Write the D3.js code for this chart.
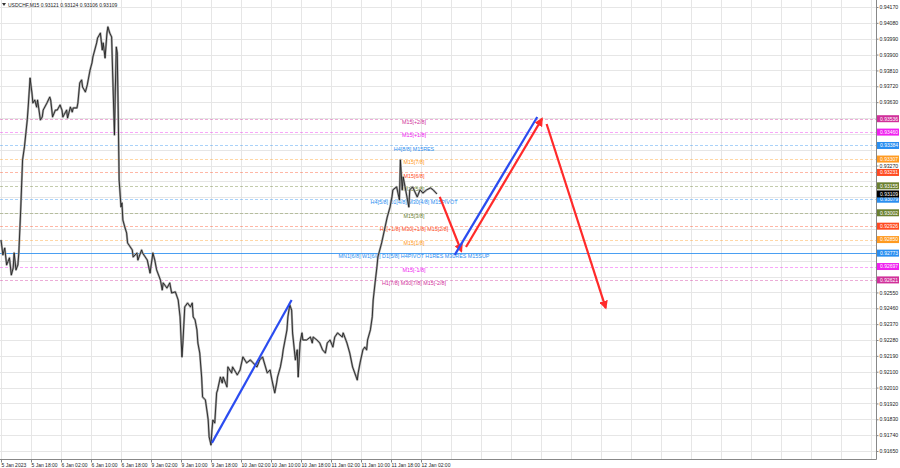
<!DOCTYPE html>
<html><head><meta charset="utf-8">
<script src="https://cdn.jsdelivr.net/npm/d3@7"></script>
<style>
body{margin:0;background:#fff;}
svg{display:block;font-family:"Liberation Sans",Arial,sans-serif;}
</style></head><body>
<svg id="c" width="900" height="468"></svg>
<script>
// ---------- data ----------
const symbol = "USDCHF,M15";
const headerOHLC = ["0.93121","0.93124","0.93106","0.93109"];
const timeLabels = ["5 Jan 2023","5 Jan 18:00","6 Jan 02:00","6 Jan 10:00","6 Jan 18:00","9 Jan 02:00","9 Jan 10:00","9 Jan 18:00","10 Jan 02:00","10 Jan 10:00","10 Jan 18:00","11 Jan 02:00","11 Jan 10:00","11 Jan 18:00","12 Jan 02:00"];
const priceTicks = ["0.91650","0.91740","0.91830","0.91920","0.92010","0.92100","0.92190","0.92280","0.92370","0.92460","0.92550","0.92640","0.92730","0.92820","0.92910","0.93000","0.93090","0.93180","0.93270","0.93360","0.93450","0.93540","0.93630","0.93720","0.93810","0.93900","0.93990","0.94080","0.94170"];

// bar index (15-min bars from 5 Jan 10:00) and price
const barIdx = [0,2,4,6,9,11,13,14,16,18,19,21,23,25,28,29,31,33,34,36,38,39,42,44,45,49,52,53,55,58,60,63,65,66,70,71,74,76,77,81,82,84,86,87,90,92,93,95,97,98,100,102,103,106,108,109,111,113,114,116,118,119,121,122,123,124,125,126,128,129,130,132,134,135,140,141,145,146,150,151,156,159,162,164,166,170,172,173,177,180,182,186,189,191,193,194,196,199,202,204,205,207,209,210,212,214,215,218,220,221,222,224,225,226,228,230,231,234,236,237,241,242,246,247,252,255,258,262,266,269,273,276,279,284,287,289,292,294,295,298,300,301,303,305,306,308,310,311,314,316,317,319,321,322,326,330,332,333,337,340,343,346,348,351,354,356,359,364,365,369,372,375,380,381,383,386,388,390,391,394,396,397,399,401,402,404,406,409,412,415,417,418,422,425,426,427,428,429,431,433,435,436,439,444,447,450,454,458,461,465];
const prices = [0.92848,0.92763,0.92802,0.92706,0.92746,0.92649,0.92689,0.92774,0.92678,0.92706,0.92774,0.93018,0.93302,0.93376,0.93529,0.93602,0.93767,0.93682,0.93625,0.93642,0.93602,0.93642,0.93529,0.93546,0.93585,0.93625,0.93659,0.93642,0.93546,0.93585,0.93585,0.93614,0.93585,0.93546,0.93585,0.93540,0.93602,0.93574,0.93597,0.93597,0.93625,0.93739,0.93756,0.93716,0.93688,0.93727,0.93756,0.93812,0.93852,0.93886,0.93926,0.93966,0.93994,0.94022,0.93926,0.93966,0.93881,0.94022,0.94057,0.94022,0.94000,0.93812,0.93444,0.93716,0.93943,0.93909,0.93585,0.93188,0.93035,0.93058,0.92961,0.92922,0.92887,0.92831,0.92791,0.92751,0.92774,0.92734,0.92791,0.92774,0.92734,0.92660,0.92774,0.92734,0.92678,0.92621,0.92564,0.92604,0.92575,0.92604,0.92547,0.92553,0.92507,0.92411,0.92184,0.92263,0.92468,0.92490,0.92468,0.92490,0.92411,0.92394,0.92337,0.92263,0.92206,0.92070,0.91957,0.91940,0.91866,0.91826,0.91730,0.91684,0.91770,0.91826,0.91809,0.91980,0.91996,0.92070,0.92036,0.92070,0.92014,0.92127,0.92093,0.92127,0.92082,0.92110,0.92184,0.92150,0.92167,0.92150,0.92127,0.92167,0.92184,0.92093,0.92110,0.92053,0.91980,0.92036,0.92070,0.92127,0.92184,0.92224,0.92280,0.92337,0.92411,0.92479,0.92450,0.92320,0.92167,0.92224,0.92070,0.92263,0.92320,0.92280,0.92280,0.92297,0.92263,0.92297,0.92280,0.92263,0.92224,0.92206,0.92263,0.92280,0.92240,0.92297,0.92320,0.92297,0.92320,0.92263,0.92206,0.92127,0.92053,0.92093,0.92150,0.92224,0.92240,0.92224,0.92280,0.92337,0.92411,0.92507,0.92604,0.92695,0.92751,0.92791,0.92831,0.92904,0.92978,0.93035,0.93092,0.93132,0.93149,0.93075,0.93302,0.93217,0.93132,0.93205,0.93149,0.93092,0.93035,0.93132,0.93149,0.93092,0.93132,0.93114,0.93132,0.93143,0.93132,0.93109];

// Murrey math levels
const levelPrices = [0.93536,0.93460,0.93384,0.93307,0.93231,0.93155,0.93079,0.93002,0.92926,0.92850,0.92773,0.92697,0.92621];
const levelNames = ["M15[+2/8]","M15[+1/8]","H4[8/8] M15RES","M15[7/8]","M15[6/8]","M15[5/8]","H4[5/8] D1[4/8] M30[4/8] M15PIVOT","M15[3/8]","H1[+1/8] M30[+1/8] M15[2/8]","M15[1/8]","MN1[6/8] W1[6/8] D1[5/8] H4PIVOT H1RES M30RES M15SUP","M15[-1/8]","H1[7/8] M30[7/8] M15[-2/8]"];
const levelColors = ["#d0309a","#f020f0","#2a8ef0","#ff9a20","#ff4a20","#6b8030","#2a8ef0","#6b8030","#ff4a20","#ff9a20","#2a8ef0","#f020f0","#d0309a"];
const levelSolid = [false,false,false,false,false,false,false,false,false,false,true,false,false];
const currentPrice = 0.93109;

// forecast / trend arrows (bar index, price)
const arrowBar0 = [225,468,484,496,582];
const arrowP0   = [0.91696,0.93092,0.92763,0.92808,0.93506];
const arrowBar1 = [310,491,572,577,645];
const arrowP1   = [0.92507,0.92785,0.93546,0.93535,0.92462];
const arrowColors = ["#2b4cf0","#ff2a2a","#2b4cf0","#ff2a2a","#ff2a2a"];
const arrowHeads  = [false,true,false,true,true];

// ---------- layout ----------
const W = 900, H = 468;
const plotR = 876, plotB = 459;
const svg = d3.select("#c");

const x = d3.scaleLinear().domain([0, 32]).range([1, 31]);
const y = d3.scaleLinear().domain([0.91650, 0.94170]).range([451, 7]);

svg.append("rect").attr("width",W).attr("height",H).attr("fill","#fff");
const defs = svg.append("defs");
defs.append("clipPath").attr("id","clip").append("rect").attr("x",0).attr("y",0).attr("width",plotR).attr("height",plotB);
arrowColors.forEach((c,i)=>{
  defs.append("marker").attr("id","ah"+i).attr("viewBox","0 0 10 10").attr("refX",8).attr("refY",5)
    .attr("markerWidth",4).attr("markerHeight",4).attr("orient","auto")
    .append("path").attr("d","M0,0 L10,5 L0,10 z").attr("fill",c);
});

const plot = svg.append("g").attr("clip-path","url(#clip)");

// grid
const maxBar = x.invert(plotR);
const vGrid = d3.range(0, maxBar, 32);
plot.append("g").selectAll("line").data(vGrid).join("line")
  .attr("x1",d=>Math.round(x(d))+0.5).attr("x2",d=>Math.round(x(d))+0.5)
  .attr("y1",0).attr("y2",plotB).attr("stroke","#e6e6e6").attr("stroke-width",1);
plot.append("g").selectAll("line").data(priceTicks).join("line")
  .attr("x1",0).attr("x2",plotR)
  .attr("y1",d=>Math.round(y(+d))+0.5).attr("y2",d=>Math.round(y(+d))+0.5)
  .attr("stroke","#e6e6e6").attr("stroke-width",1);

// levels
const levels = levelPrices.map((p,i)=>({p, name:levelNames[i], c:levelColors[i], solid:levelSolid[i]}));
plot.append("g").selectAll("line").data(levels).join("line")
  .attr("x1",0).attr("x2",plotR)
  .attr("y1",d=>Math.round(y(d.p))+0.5).attr("y2",d=>Math.round(y(d.p))+0.5)
  .attr("stroke",d=>d.c).attr("stroke-opacity",d=>d.solid?0.85:0.4)
  .attr("stroke-dasharray",d=>d.solid?null:"3,2").attr("stroke-width",1);
plot.append("g").selectAll("text").data(levels).join("text")
  .attr("x",414).attr("y",d=>y(d.p)+5.2).attr("text-anchor","middle")
  .attr("font-size","5.4px").attr("fill",d=>d.c).text(d=>d.name);

// price series (candle-like: gray range band + dark close path)
const series = barIdx.map((b,i)=>({b, p:prices[i]}));
const line = d3.line().x(d=>x(d.b)).y(d=>y(d.p));
plot.append("path").datum(series).attr("d",line).attr("fill","none")
  .attr("stroke","#a8a8a8").attr("stroke-width",2.2).attr("stroke-linejoin","round");
plot.append("path").datum(series).attr("d",line).attr("fill","none")
  .attr("stroke","#222").attr("stroke-width",0.9).attr("stroke-linejoin","round");

// arrows
arrowColors.forEach((c,i)=>{
  plot.append("line")
    .attr("x1",x(arrowBar0[i])).attr("y1",y(arrowP0[i]))
    .attr("x2",x(arrowBar1[i])).attr("y2",y(arrowP1[i]))
    .attr("stroke",c).attr("stroke-width",2.2)
    .attr("marker-end",arrowHeads[i]?"url(#ah"+i+")":null);
});

// frame
svg.append("line").attr("x1",plotR+0.5).attr("x2",plotR+0.5).attr("y1",0).attr("y2",plotB+0.5).attr("stroke","#888");
svg.append("line").attr("x1",0).attr("x2",plotR+0.5).attr("y1",plotB+0.5).attr("y2",plotB+0.5).attr("stroke","#888");

// colored tags (levels + current price)
const tags = levels.map(d=>({p:d.p, c:d.c})).concat([{p:currentPrice, c:"#000"}]);

// price axis (tick labels hidden where a coloured tag covers them)
const visibleTicks = priceTicks.filter(t=>tags.every(g=>Math.abs(y(+t)-y(g.p))>=6.5));
const yAxis = d3.axisRight(y).tickValues(visibleTicks.map(Number)).tickFormat((d,i)=>visibleTicks[i]).tickSize(2).tickPadding(1);
const ya = svg.append("g").attr("transform",`translate(${plotR+0.5},0)`).call(yAxis);
ya.select(".domain").remove();
ya.selectAll("line").attr("stroke","#888");
ya.selectAll("text").attr("font-size","5.2px").attr("fill","#222").attr("font-family","Liberation Sans, Arial, sans-serif");

// time axis
const tAxis = d3.axisBottom(x).tickValues(timeLabels.map((t,i)=>i*32)).tickFormat((d,i)=>timeLabels[i]).tickSize(3).tickPadding(1);
const xa = svg.append("g").attr("transform",`translate(0,${plotB+0.5})`).call(tAxis);
xa.select(".domain").remove();
xa.selectAll("line").attr("stroke","#888");
xa.selectAll("text").attr("font-size","5px").attr("fill","#222").attr("text-anchor","start")
  .attr("font-family","Liberation Sans, Arial, sans-serif");

const tg = svg.append("g").selectAll("g").data(tags).join("g")
  .attr("transform",d=>`translate(${plotR+1},${y(d.p)})`);
tg.append("rect").attr("x",0).attr("y",-3.5).attr("width",22).attr("height",7).attr("fill",d=>d.c);
tg.append("text").attr("x",3).attr("y",1.8).attr("font-size","5px").attr("fill","#fff")
  .text(d=>d.p.toFixed(5));

// header
svg.append("path").attr("d","M2,3 L6,3 L4,6 z").attr("fill","#333");
svg.append("text").attr("x",8).attr("y",6.5).attr("font-size","5px").attr("fill","#222")
  .text(symbol + "  " + headerOHLC.join(" "));
</script>
</body></html>
